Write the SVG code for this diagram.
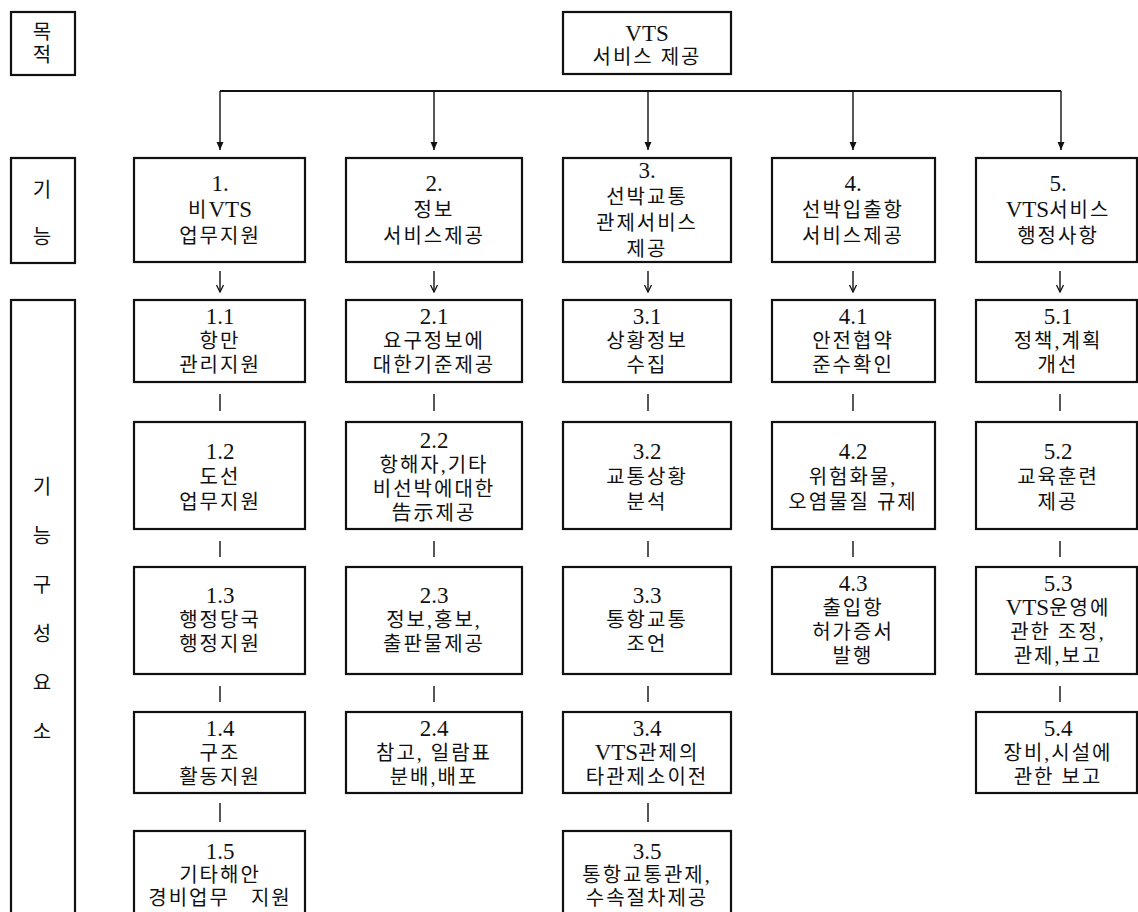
<svg xmlns="http://www.w3.org/2000/svg" width="1138" height="912" viewBox="0 0 1138 912">
<style>
.box{fill:#fff;stroke:#111;stroke-width:2.2}
.t{font-family:"Liberation Serif","Noto Sans CJK KR",serif;font-size:20px;fill:#111;text-anchor:middle;letter-spacing:2px}
.n{font-family:"Liberation Serif",serif;font-size:23px;letter-spacing:0}
.lat{font-family:"Liberation Serif",serif;font-size:23px;letter-spacing:0}
.c{stroke:#111;stroke-width:1.4;fill:none}
.h{stroke:#111;stroke-width:2;fill:none}
</style>
<defs>
<marker id="ah" viewBox="-9 -5 10 10" refX="0" refY="0" markerWidth="10" markerHeight="10" markerUnits="userSpaceOnUse" orient="auto">
<path d="M-8,-3.5 L0,0 L-8,3.5 Z" fill="#111"/>
</marker>
<marker id="ao" viewBox="-9 -5 10 10" refX="0" refY="0" markerWidth="10" markerHeight="10" markerUnits="userSpaceOnUse" orient="auto">
<path d="M-7,-3.5 L0,0 L-7,3.5" fill="none" stroke="#111" stroke-width="1.3"/>
</marker>
</defs>

<g id="labels">
<g id="label-purpose"><rect class="box" x="11" y="12" width="64" height="63"/>
<text class="t" x="43" y="39">목</text><text class="t" x="43" y="62">적</text></g>
<g id="label-function"><rect class="box" x="11" y="158" width="64" height="105"/>
<text class="t" x="43" y="197">기</text><text class="t" x="43" y="244">능</text></g>
<g id="label-elements"><rect class="box" x="11" y="300" width="64" height="620"/>
<text class="t" x="43" y="494">기</text><text class="t" x="43" y="543">능</text><text class="t" x="43" y="592">구</text><text class="t" x="43" y="641">성</text><text class="t" x="43" y="690">요</text><text class="t" x="43" y="739">소</text></g>
</g>

<g id="connectors">
<line class="h" x1="220" y1="91" x2="1061" y2="91"/>
<line class="c" x1="220" y1="91" x2="220" y2="150" marker-end="url(#ah)"/>
<line class="c" x1="434" y1="91" x2="434" y2="150" marker-end="url(#ah)"/>
<line class="c" x1="648" y1="91" x2="648" y2="150" marker-end="url(#ah)"/>
<line class="c" x1="853" y1="91" x2="853" y2="150" marker-end="url(#ah)"/>
<line class="c" x1="1061" y1="91" x2="1061" y2="150" marker-end="url(#ah)"/>
<line class="c" x1="220" y1="271" x2="220" y2="292" marker-end="url(#ao)"/>
<line class="c" x1="434" y1="271" x2="434" y2="292" marker-end="url(#ao)"/>
<line class="c" x1="648" y1="271" x2="648" y2="292" marker-end="url(#ao)"/>
<line class="c" x1="853" y1="271" x2="853" y2="292" marker-end="url(#ao)"/>
<line class="c" x1="1060" y1="271" x2="1060" y2="292" marker-end="url(#ao)"/>
<line class="c" x1="220" y1="394" x2="220" y2="411"/>
<line class="c" x1="434" y1="394" x2="434" y2="411"/>
<line class="c" x1="648" y1="394" x2="648" y2="411"/>
<line class="c" x1="853" y1="394" x2="853" y2="411"/>
<line class="c" x1="1060" y1="394" x2="1060" y2="411"/>
<line class="c" x1="220" y1="541" x2="220" y2="557"/>
<line class="c" x1="434" y1="541" x2="434" y2="557"/>
<line class="c" x1="648" y1="541" x2="648" y2="557"/>
<line class="c" x1="853" y1="541" x2="853" y2="557"/>
<line class="c" x1="1060" y1="541" x2="1060" y2="557"/>
<line class="c" x1="220" y1="686" x2="220" y2="702"/>
<line class="c" x1="434" y1="686" x2="434" y2="702"/>
<line class="c" x1="648" y1="686" x2="648" y2="702"/>
<line class="c" x1="1060" y1="686" x2="1060" y2="702"/>
<line class="c" x1="220" y1="803" x2="220" y2="822"/>
<line class="c" x1="648" y1="803" x2="648" y2="822"/>
</g>

<g id="root"><rect class="box" x="563" y="12" width="168" height="62"/>
<text class="t" x="647" y="41"><tspan class="lat">VTS</tspan></text><text class="t" x="647" y="64">서비스 제공</text></g>

<g id="f1"><rect class="box" x="134" y="158" width="171" height="104"/>
<text class="t" x="220" y="191"><tspan class="n">1.</tspan></text><text class="t" x="220" y="217">비<tspan class="lat">VTS</tspan></text><text class="t" x="220" y="243">업무지원</text></g>
<g id="f2"><rect class="box" x="346" y="158" width="176" height="104"/>
<text class="t" x="434" y="191"><tspan class="n">2.</tspan></text><text class="t" x="434" y="217">정보</text><text class="t" x="434" y="243">서비스제공</text></g>
<g id="f3"><rect class="box" x="563" y="158" width="168" height="104"/>
<text class="t" x="647" y="178"><tspan class="n">3.</tspan></text><text class="t" x="647" y="204">선박교통</text><text class="t" x="647" y="230">관제서비스</text><text class="t" x="647" y="256">제공</text></g>
<g id="f4"><rect class="box" x="772" y="158" width="163" height="104"/>
<text class="t" x="853" y="191"><tspan class="n">4.</tspan></text><text class="t" x="853" y="217">선박입출항</text><text class="t" x="853" y="243">서비스제공</text></g>
<g id="f5"><rect class="box" x="976" y="158" width="161" height="104"/>
<text class="t" x="1058" y="191"><tspan class="n">5.</tspan></text><text class="t" x="1058" y="217"><tspan class="lat">VTS</tspan>서비스</text><text class="t" x="1058" y="243">행정사항</text></g>

<g id="n1-1"><rect class="box" x="134" y="300" width="171" height="82"/>
<text class="t" x="220" y="324"><tspan class="n">1.1</tspan></text><text class="t" x="220" y="348">항만</text><text class="t" x="220" y="372">관리지원</text></g>
<g id="n2-1"><rect class="box" x="346" y="300" width="176" height="82"/>
<text class="t" x="434" y="324"><tspan class="n">2.1</tspan></text><text class="t" x="434" y="348">요구정보에</text><text class="t" x="434" y="372">대한기준제공</text></g>
<g id="n3-1"><rect class="box" x="563" y="300" width="168" height="82"/>
<text class="t" x="647" y="324"><tspan class="n">3.1</tspan></text><text class="t" x="647" y="348">상황정보</text><text class="t" x="647" y="372">수집</text></g>
<g id="n4-1"><rect class="box" x="772" y="300" width="163" height="82"/>
<text class="t" x="853" y="324"><tspan class="n">4.1</tspan></text><text class="t" x="853" y="348">안전협약</text><text class="t" x="853" y="372">준수확인</text></g>
<g id="n5-1"><rect class="box" x="976" y="300" width="161" height="82"/>
<text class="t" x="1058" y="324"><tspan class="n">5.1</tspan></text><text class="t" x="1058" y="348">정책,계획</text><text class="t" x="1058" y="372">개선</text></g>

<g id="n1-2"><rect class="box" x="134" y="422" width="171" height="107"/>
<text class="t" x="220" y="459"><tspan class="n">1.2</tspan></text><text class="t" x="220" y="484">도선</text><text class="t" x="220" y="509">업무지원</text></g>
<g id="n2-2"><rect class="box" x="346" y="422" width="176" height="107"/>
<text class="t" x="434" y="448"><tspan class="n">2.2</tspan></text><text class="t" x="434" y="472">항해자,기타</text><text class="t" x="434" y="496">비선박에대한</text><text class="t" x="434" y="520">告示제공</text></g>
<g id="n3-2"><rect class="box" x="563" y="422" width="168" height="107"/>
<text class="t" x="647" y="459"><tspan class="n">3.2</tspan></text><text class="t" x="647" y="484">교통상황</text><text class="t" x="647" y="509">분석</text></g>
<g id="n4-2"><rect class="box" x="772" y="422" width="163" height="107"/>
<text class="t" x="853" y="459"><tspan class="n">4.2</tspan></text><text class="t" x="853" y="484">위험화물,</text><text class="t" x="853" y="509">오염물질 규제</text></g>
<g id="n5-2"><rect class="box" x="976" y="422" width="161" height="107"/>
<text class="t" x="1058" y="459"><tspan class="n">5.2</tspan></text><text class="t" x="1058" y="484">교육훈련</text><text class="t" x="1058" y="509">제공</text></g>

<g id="n1-3"><rect class="box" x="134" y="567" width="171" height="107"/>
<text class="t" x="220" y="603"><tspan class="n">1.3</tspan></text><text class="t" x="220" y="627">행정당국</text><text class="t" x="220" y="651">행정지원</text></g>
<g id="n2-3"><rect class="box" x="346" y="567" width="176" height="107"/>
<text class="t" x="434" y="603"><tspan class="n">2.3</tspan></text><text class="t" x="434" y="627">정보,홍보,</text><text class="t" x="434" y="651">출판물제공</text></g>
<g id="n3-3"><rect class="box" x="563" y="567" width="168" height="107"/>
<text class="t" x="647" y="603"><tspan class="n">3.3</tspan></text><text class="t" x="647" y="627">통항교통</text><text class="t" x="647" y="651">조언</text></g>
<g id="n4-3"><rect class="box" x="772" y="567" width="163" height="107"/>
<text class="t" x="853" y="591"><tspan class="n">4.3</tspan></text><text class="t" x="853" y="615">출입항</text><text class="t" x="853" y="639">허가증서</text><text class="t" x="853" y="663">발행</text></g>
<g id="n5-3"><rect class="box" x="976" y="567" width="161" height="107"/>
<text class="t" x="1058" y="591"><tspan class="n">5.3</tspan></text><text class="t" x="1058" y="615"><tspan class="lat">VTS</tspan>운영에</text><text class="t" x="1058" y="639">관한 조정,</text><text class="t" x="1058" y="663">관제,보고</text></g>

<g id="n1-4"><rect class="box" x="134" y="712" width="171" height="81"/>
<text class="t" x="220" y="736"><tspan class="n">1.4</tspan></text><text class="t" x="220" y="760">구조</text><text class="t" x="220" y="784">활동지원</text></g>
<g id="n2-4"><rect class="box" x="346" y="712" width="176" height="81"/>
<text class="t" x="434" y="736"><tspan class="n">2.4</tspan></text><text class="t" x="434" y="760">참고, 일람표</text><text class="t" x="434" y="784">분배,배포</text></g>
<g id="n3-4"><rect class="box" x="563" y="712" width="168" height="81"/>
<text class="t" x="647" y="736"><tspan class="n">3.4</tspan></text><text class="t" x="647" y="760"><tspan class="lat">VTS</tspan>관제의</text><text class="t" x="647" y="784">타관제소이전</text></g>
<g id="n5-4"><rect class="box" x="976" y="712" width="161" height="81"/>
<text class="t" x="1058" y="736"><tspan class="n">5.4</tspan></text><text class="t" x="1058" y="760">장비,시설에</text><text class="t" x="1058" y="784">관한 보고</text></g>

<g id="n1-5"><rect class="box" x="134" y="831" width="171" height="90"/>
<text class="t" x="220" y="859"><tspan class="n">1.5</tspan></text><text class="t" x="220" y="882">기타해안</text><text class="t" x="220" y="905" style="white-space:pre">경비업무   지원</text></g>
<g id="n3-5"><rect class="box" x="563" y="831" width="168" height="90"/>
<text class="t" x="647" y="859"><tspan class="n">3.5</tspan></text><text class="t" x="647" y="882">통항교통관제,</text><text class="t" x="647" y="905">수속절차제공</text></g>
</svg>
